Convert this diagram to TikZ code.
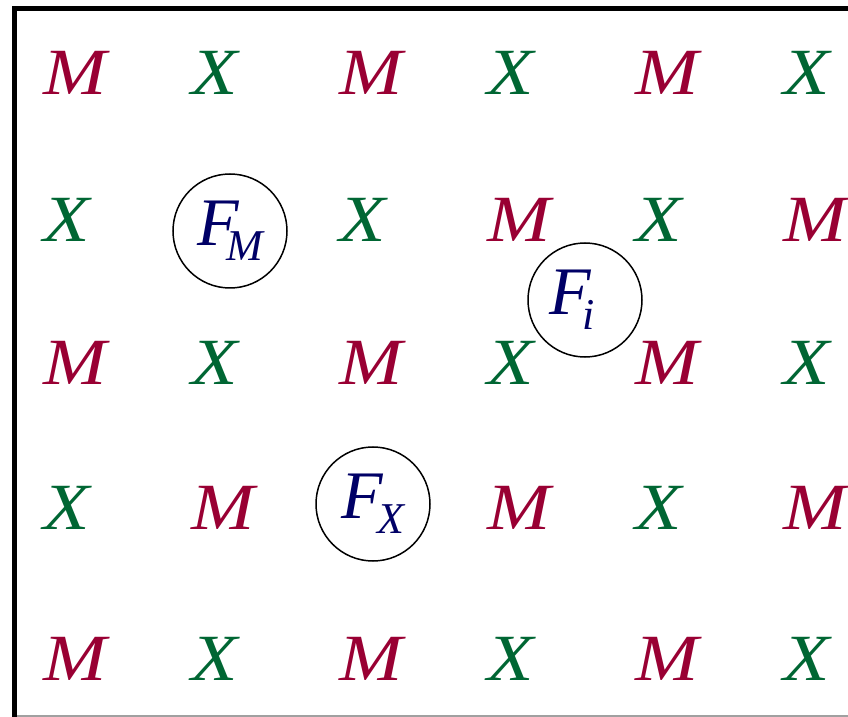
\documentclass[tikz,border=0pt]{standalone}
\usepackage{fontspec}
\setmainfont{Liberation Serif}
\newfontfamily\latticefont[FakeStretch=1.15]{Liberation Serif}
\usetikzlibrary{positioning}
\definecolor{ionM}{HTML}{990033}
\definecolor{ionX}{HTML}{006633}
\definecolor{fieldblue}{HTML}{000066}
\definecolor{edgegray}{HTML}{A0A0A0}
\tikzset{
  ionm/.style      = {anchor=base west, inner sep=0pt, text=ionM,
                      font=\latticefont\itshape\fontsize{33}{36}\selectfont},
  ionx/.style      = {ionm, text=ionX},
  fieldsite/.style = {circle, draw=black, line width=0.75pt, minimum size=57pt,
                      inner sep=0pt, text=fieldblue, font=\itshape\fontsize{34}{36}\selectfont},
  frameline/.style = {line width=2.5pt, draw=black},
  baseline/.style  = {line width=0.75pt, draw=edgegray},
}
\newcommand{\fieldlabel}[2]{F\kern#2\raisebox{-7.5pt}{\fontsize{22}{24}\selectfont #1}}

\begin{document}
\begin{tikzpicture}[x=0.5pt, y=-0.5pt]
  \useasboundingbox (0,0) rectangle (848,717);
  % frame
  \coordinate (frame-bl) at (14.5,717);
  \coordinate (frame-tl) at (14.5,8.5);
  \coordinate (frame-tr) at (848,8.5);
  \coordinate (floor-l) at (17,716);
  \coordinate (floor-r) at (848,716);
  \draw[frameline] (frame-bl) -- (frame-tl) -- (frame-tr);
  \draw[baseline] (floor-l) -- (floor-r);
  % lattice of ions
  \foreach \row/\ypos in {1/95, 2/242, 3/385, 4/530, 5/681}{
    \foreach \col in {1,...,6}{
      \pgfmathtruncatemacro{\parity}{mod(\row+\col,2)}
      \pgfmathtruncatemacro{\site}{10*\row+\col}
      \ifnum\site=22\relax\else\ifnum\site=43\relax\else
        \ifnum\parity=0
          \node[ionm] (ion-\row-\col) at ({43+148*(\col-1)}, \ypos) {M};
        \else
          \node[ionx] (ion-\row-\col) at ({43+148*(\col-1)}, \ypos) {X};
        \fi
      \fi\fi
    }
  }
  % field sites
  \node[fieldsite] (fM) at (230,231) {\fieldlabel{M}{-6.25pt}};
  \node[fieldsite] (fi) at (585,300) {\fieldlabel{i}{-4pt}\kern13pt};
  \node[fieldsite] (fX) at (373,504) {\fieldlabel{X}{-2.75pt}};
\end{tikzpicture}
\end{document}
